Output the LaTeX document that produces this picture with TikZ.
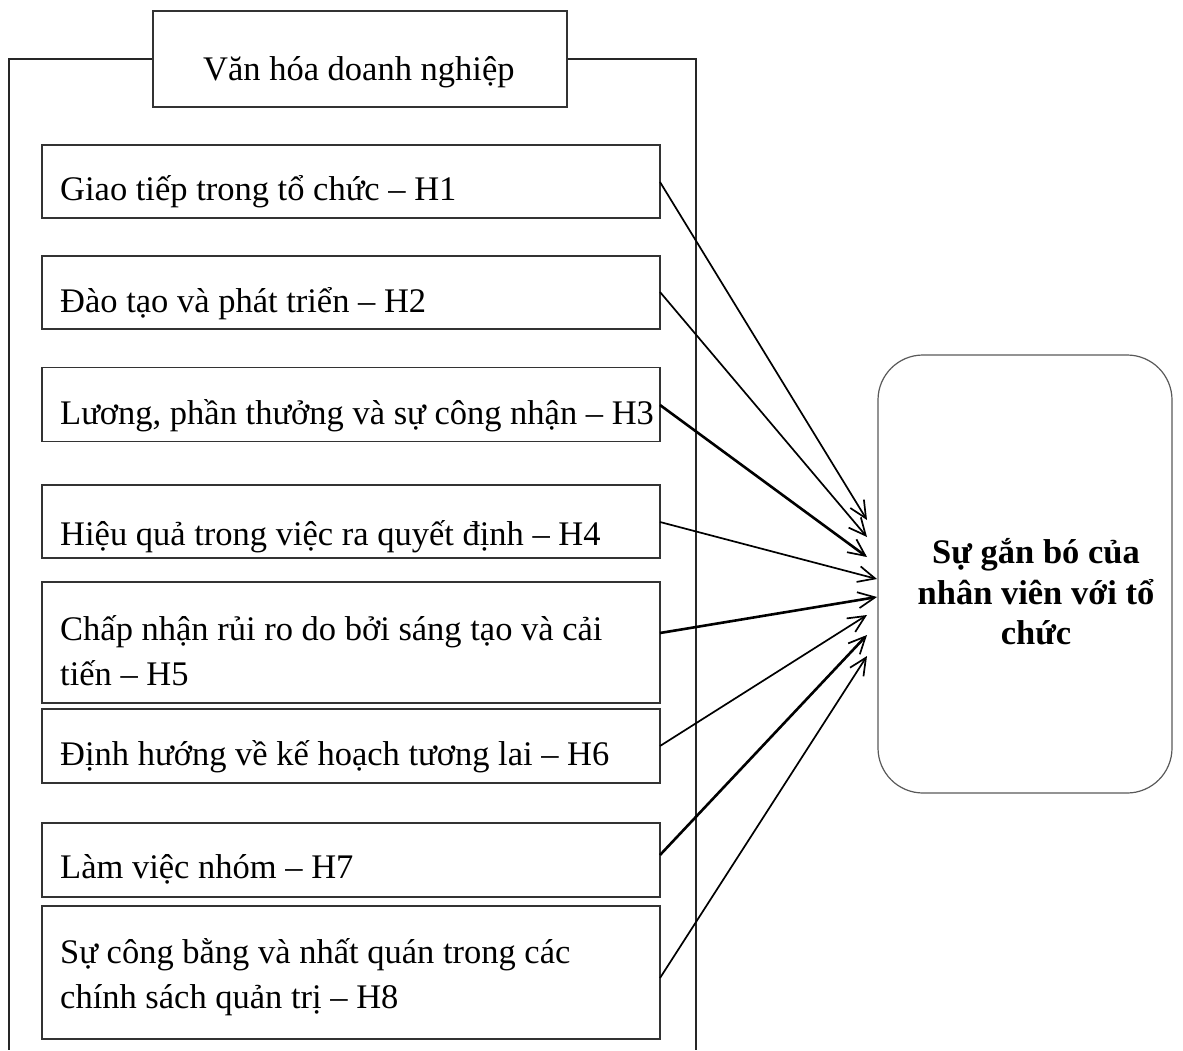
\documentclass[tikz,border=0pt]{standalone}
\usepackage{fontspec}
\setmainfont{Liberation Serif}
\usetikzlibrary{arrows.meta}
\begin{document}
\begin{tikzpicture}[x=1pt,y=-1pt,
  box/.style={draw=black!80, line width=1.2pt, inner sep=0pt, minimum width=618pt},
  txt/.style={anchor=base west, inner sep=0pt, font=\fontsize{34.5}{45}\selectfont},
  frame/.style={draw=black!85, line width=1.8pt},
  arr/.style={line width=1.7pt, -{Straight Barb[length=17pt,width=16pt,line width=1.7pt]}},
  arrb/.style={arr, line width=2.6pt},
]
\useasboundingbox (0,0) rectangle (1183,1050);
% title
\node[draw=black!80, line width=1.2pt, inner sep=0pt, minimum width=414pt, minimum height=96pt] (title) at (360,59) {};
\node[txt] (ttl) at (203,80) {Văn hóa doanh nghiệp};
% outer frame
\coordinate (fl) at (9,1050);
\coordinate (fr) at (696,1050);
\draw[frame] (title.west) -- (9,59) -- (fl);
\draw[frame] (title.east) -- (696,59) -- (fr);
% inner boxes
\node[box, minimum height=73pt] (b1) at (351,181.5) {};
\node[box, minimum height=73pt] (b2) at (351,292.5) {};
\node[box, minimum height=74pt] (b3) at (351,404.5) {};
\node[box, minimum height=73pt] (b4) at (351,521.5) {};
\node[box, minimum height=121pt] (b5) at (351,642.5) {};
\node[box, minimum height=74pt] (b6) at (351,746) {};
\node[box, minimum height=74pt] (b7) at (351,860) {};
\node[box, minimum height=133pt] (b8) at (351,972.5) {};
\node[txt] (t1) at (60,200) {Giao tiếp trong tổ chức – H1};
\node[txt] (t2) at (60,312) {Đào tạo và phát triển – H2};
\node[txt] (t3) at (60,424) {Lương, phần thưởng và sự công nhận – H3};
\node[txt] (t4) at (60,545) {Hiệu quả trong việc ra quyết định – H4};
\node[txt] (t5a) at (60,640) {Chấp nhận rủi ro do bởi sáng tạo và cải};
\node[txt] (t5b) at (60,685) {tiến – H5};
\node[txt] (t6) at (60,765) {Định hướng về kế hoạch tương lai – H6};
\node[txt] (t7) at (60,878) {Làm việc nhóm – H7};
\node[txt] (t8a) at (60,963) {Sự công bằng và nhất quán trong các};
\node[txt] (t8b) at (60,1008) {chính sách quản trị – H8};
% target
\node[draw=black!65, line width=1.2pt, rounded corners=45pt, minimum width=294pt, minimum height=438pt, inner sep=0pt] (tg) at (1025,574) {};
\node[align=center, inner sep=0pt, font=\fontsize{34.5}{40.5}\selectfont\bfseries] (tgt) at (1036,592) {Sự gắn bó của\\nhân viên với tổ\\chức};
% arrow endpoints
\coordinate (s1) at (660,182);
\coordinate (s2) at (660,292);
\coordinate (s3) at (660,405);
\coordinate (s4) at (660,522);
\coordinate (s5) at (660,633);
\coordinate (s6) at (660,746);
\coordinate (s7) at (660,855);
\coordinate (s8) at (660,978);
\coordinate (e1) at (867,520);
\coordinate (e2) at (867,537);
\coordinate (e3) at (867,557);
\coordinate (e4) at (877,579);
\coordinate (e5) at (877,597);
\coordinate (e6) at (867,615);
\coordinate (e7) at (867,635);
\coordinate (e8) at (867,656);
\draw[arr] (s1) -- (e1);
\draw[arr] (s2) -- (e2);
\draw[arrb] (s3) -- (e3);
\draw[arr] (s4) -- (e4);
\draw[arrb] (s5) -- (e5);
\draw[arr] (s6) -- (e6);
\draw[arrb] (s7) -- (e7);
\draw[arr] (s8) -- (e8);
\end{tikzpicture}
\end{document}
